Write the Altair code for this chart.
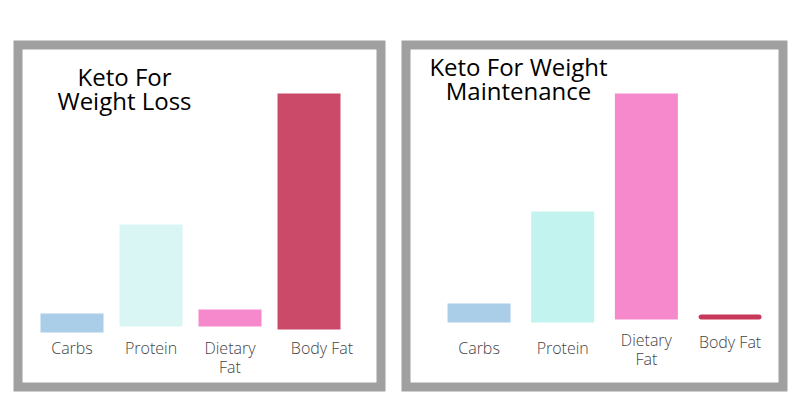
import altair as alt
import pandas as pd

categories = ["Carbs", "Protein", "Dietary Fat", "Body Fat"]
labels = ["Carbs", "Protein", "Dietary\nFat", "Body Fat"]

# floating bars: (bottom, top) in relative units
loss_bottom = [-2.6, 0.0, 0.0, -1.3]
loss_top = [5.6, 43.8, 7.3, 100.1]
maint_bottom = [1.7, 1.7, 3.0, 3.0]
maint_top = [9.9, 49.4, 100.1, 5.2]

loss_title = "Keto For\nWeight Loss"
maint_title = "Keto For Weight\nMaintenance"

loss_colors = ["#AACDE8", "#D9F6F5", "#F589CB", "#CB4A69"]
maint_colors = ["#AACDE8", "#C3F3EF", "#F589CB", "#C8385A"]

Y_DOMAIN = [-26, 121]


def panel(bottom, top, colors, title, width, x_range, title_x, title_y, label_y_by_cat, bodyfat_dx, corner):
    df = pd.DataFrame({"category": categories, "label": labels, "bottom": bottom, "top": top})
    xs = alt.X("category:N", sort=categories, scale=alt.Scale(domain=categories, range=x_range), axis=None)
    ys = alt.Y("bottom:Q", scale=alt.Scale(domain=Y_DOMAIN, nice=False, zero=False), axis=None)
    cs = alt.Color("category:N", scale=alt.Scale(domain=categories, range=colors), legend=None)
    base = alt.Chart(df)
    bars = base.transform_filter(alt.datum.category != "Body Fat").mark_bar(size=63).encode(
        x=xs, y=ys, y2="top:Q", color=cs
    )
    fat = base.transform_filter(alt.datum.category == "Body Fat").mark_bar(size=63, cornerRadius=corner).encode(
        x=xs, y=ys, y2="top:Q", color=cs
    )
    layers = [bars, fat]
    for cat, ly in label_y_by_cat.items():
        layers.append(
            base.transform_filter(alt.datum.category == cat)
            .mark_text(font="Open Sans", fontSize=16, fontWeight=300, color="#444444",
                       baseline="top", align="center", lineBreak="\n", lineHeight=19,
                       dx=bodyfat_dx if cat == "Body Fat" else 0)
            .encode(x=xs, y=alt.value(ly), text="label:N")
        )
    tdf = pd.DataFrame({"t": [title]})
    layers.append(
        alt.Chart(tdf).mark_text(font="Open Sans", fontSize=24, color="#000000", baseline="top",
                                 align="center", lineBreak="\n", lineHeight=24)
        .encode(x=alt.value(title_x), y=alt.value(title_y), text="t:N")
    )
    return alt.layer(*layers).properties(width=width, height=342)


left = panel(loss_bottom, loss_top, loss_colors, loss_title, 363, [14.5, 330.5], 106.5, 22,
             {"Carbs": 296, "Protein": 296, "Dietary Fat": 296, "Body Fat": 296}, 13, 0)
right = panel(maint_bottom, maint_top, maint_colors, maint_title, 377, [31.2, 365.9], 112.5, 12,
              {"Carbs": 296, "Protein": 296, "Dietary Fat": 288, "Body Fat": 290}, 0, 2.5)

chart = alt.hconcat(left, right, spacing=15).resolve_scale(
    color="independent", x="independent"
).properties(
    padding={"left": 5, "top": 32, "right": 1, "bottom": 0},
    background="white",
).configure_view(stroke="#A0A0A0", strokeWidth=9)

chart.save("out.html", embed_options={"renderer": "svg", "actions": False})
